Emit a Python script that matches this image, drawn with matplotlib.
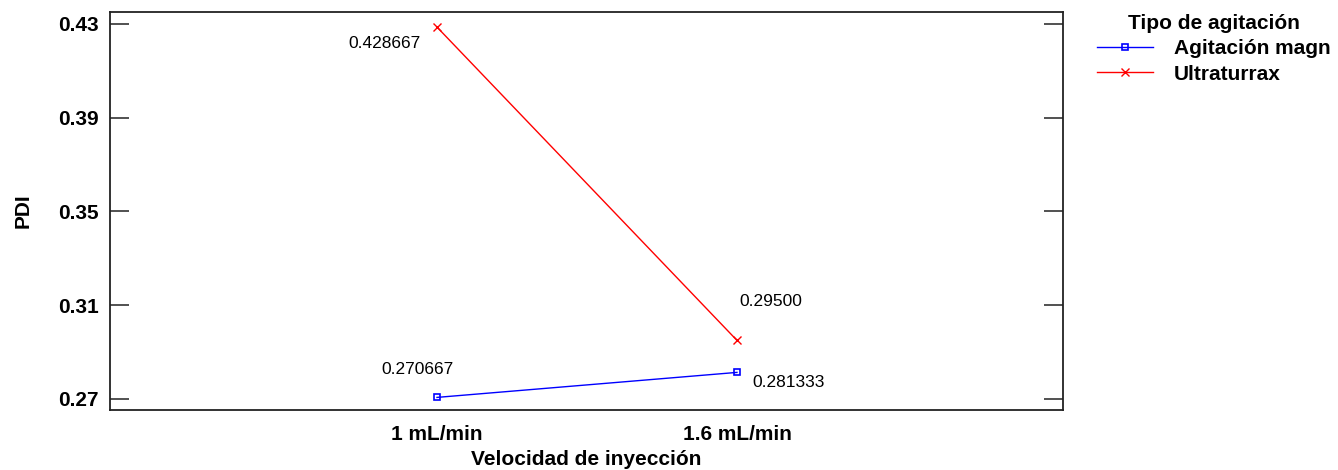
import matplotlib
matplotlib.use("Agg")
import matplotlib.pyplot as plt

plt.rcParams['font.family'] = ['Liberation Sans', 'DejaVu Sans']

# medias de PDI por velocidad de inyección y tipo de agitación
velocidades = ["1 mL/min", "1.6 mL/min"]
agitacion_magn = [0.270667, 0.281333]
ultraturrax = [0.428667, 0.29500]
etiquetas_magn = ["0.270667", "0.281333"]
etiquetas_ultra = ["0.428667", "0.29500"]
yticks = [0.27, 0.31, 0.35, 0.39, 0.43]

fig = plt.figure(figsize=(13.38, 4.70), dpi=100)
ax = fig.add_axes([0.0822, 0.1277, 0.7123, 0.8468])

x = list(range(len(velocidades)))
ax.plot(x, agitacion_magn, color='blue', lw=1.0, marker='s', ms=5,
        mfc='none', mec='blue', mew=1.2, label='Agitación magn')
ax.plot(x, ultraturrax, color='red', lw=1.0, marker='x', ms=6,
        mec='red', mew=1.0, label='Ultraturrax')

# etiquetas de valor junto a cada punto (desplazamiento en puntos)
ax.annotate(etiquetas_ultra[0], (x[0], ultraturrax[0]), xytext=(-12, -12),
            textcoords='offset points', ha='right', va='center', fontsize=12.5)
ax.annotate(etiquetas_ultra[1], (x[1], ultraturrax[1]), xytext=(2, 28),
            textcoords='offset points', ha='left', va='center', fontsize=12.5)
ax.annotate(etiquetas_magn[0], (x[0], agitacion_magn[0]), xytext=(-14, 20),
            textcoords='offset points', ha='center', va='center', fontsize=12.5)
ax.annotate(etiquetas_magn[1], (x[1], agitacion_magn[1]), xytext=(11, -7),
            textcoords='offset points', ha='left', va='center', fontsize=12.5)

ax.set_xlim(-1.09, 2.087)
ax.set_ylim(0.2653, 0.4351)
ax.set_xticks(x)
ax.set_xticklabels(velocidades, fontsize=15, fontweight='bold')
ax.set_yticks(yticks)
ax.set_yticklabels(["%.2f" % v for v in yticks], fontsize=15, fontweight='bold')
ax.tick_params(axis='x', length=0, pad=11)
ax.tick_params(axis='y', direction='in', length=14, width=1.2, color='#333333',
               right=True, pad=8)

for s in ax.spines.values():
    s.set_linewidth(1.3)
    s.set_color('#222222')

ax.set_xlabel("Velocidad de inyección", fontsize=15, fontweight='bold', labelpad=4)
ax.set_ylabel("PDI", fontsize=15, fontweight='bold', labelpad=18)

leg = ax.legend(loc='upper left', bbox_to_anchor=(0.82, 0.97),
                bbox_transform=fig.transFigure, frameon=False,
                title="Tipo de agitación", handlelength=2.7, handletextpad=1.0,
                labelspacing=0.3, borderaxespad=0, borderpad=0,
                prop={'size': 15, 'weight': 'bold'},
                title_fontproperties={'size': 15, 'weight': 'bold'})

fig.savefig("out.png", dpi=100)
